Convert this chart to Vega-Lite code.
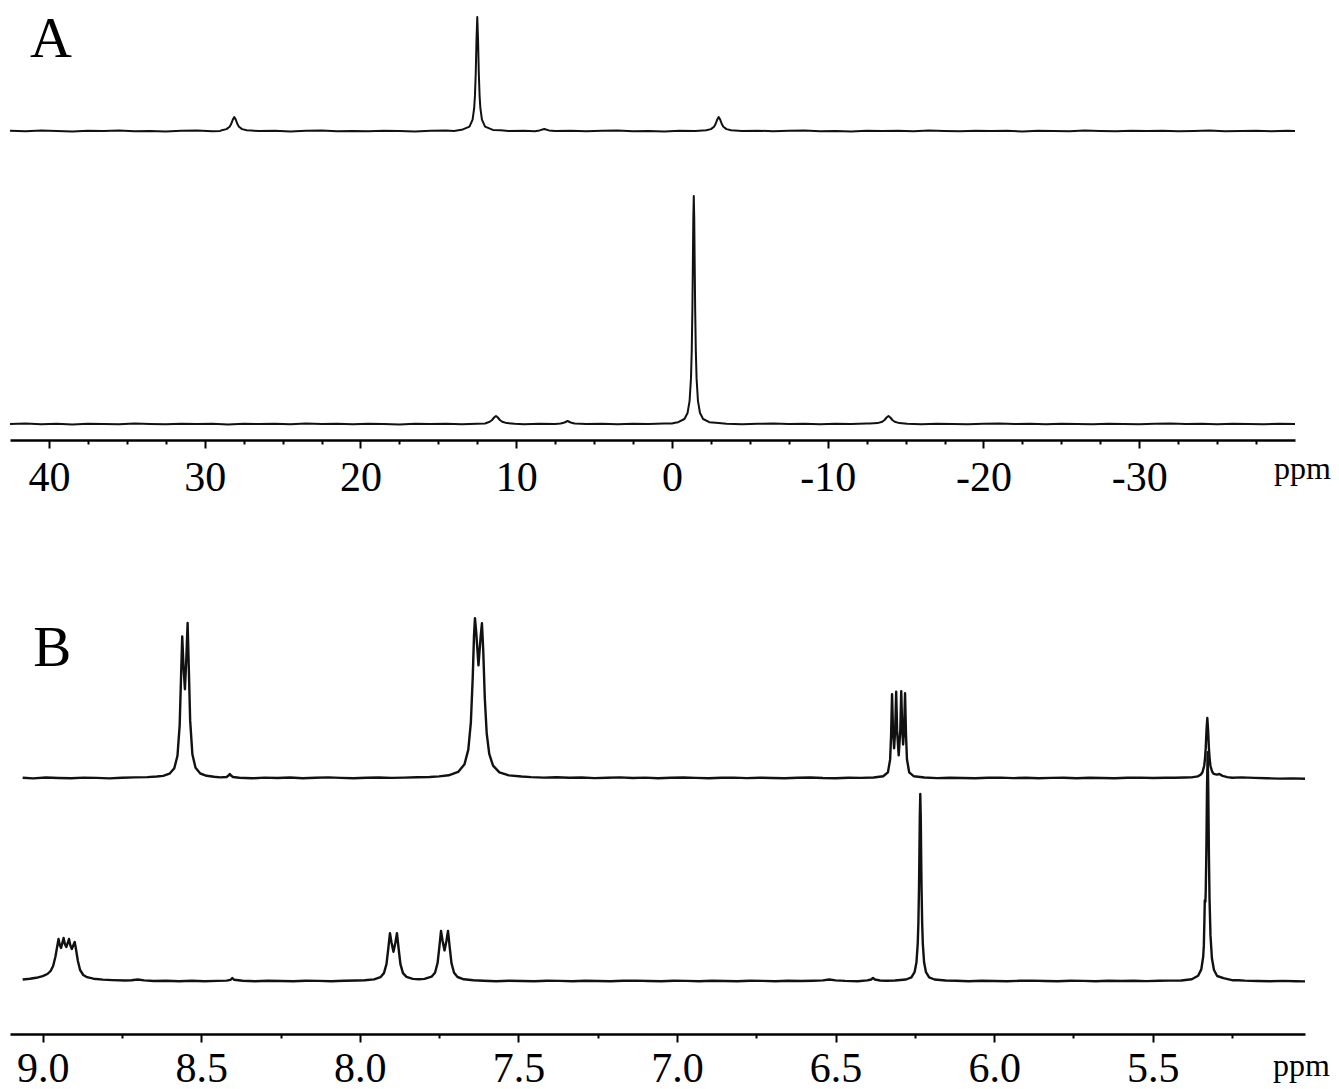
{
"$schema": "https://vega.github.io/schema/vega-lite/v6.json",
"background": "white",
"padding": {"left": 9, "top": 0, "right": 0, "bottom": 0},
"config": {"view": {"stroke": null}},
"datasets": {
"a_top": [
{"ppm":42.5,"intensity":0.2},{"ppm":41.5,"intensity":-0.3},{"ppm":40.5,"intensity":0.4},{"ppm":39.5,"intensity":0.0},{"ppm":38.5,"intensity":-0.4},{"ppm":37.5,"intensity":0.3},{"ppm":36.5,"intensity":-0.1},{"ppm":35.5,"intensity":0.5},{"ppm":34.5,"intensity":-0.2},{"ppm":33.5,"intensity":0.1},{"ppm":32.5,"intensity":-0.5},{"ppm":31.5,"intensity":0.2},{"ppm":30.5,"intensity":0.4},{"ppm":29.5,"intensity":-0.2},{"ppm":29.0,"intensity":0.1},{"ppm":28.9,"intensity":0.8},{"ppm":28.6,"intensity":1.9},{"ppm":28.4,"intensity":4.3},{"ppm":28.3,"intensity":7.0},{"ppm":28.2,"intensity":11.2},{"ppm":28.1,"intensity":14},{"ppm":28.0,"intensity":11.2},{"ppm":27.9,"intensity":7.0},{"ppm":27.8,"intensity":4.3},{"ppm":27.6,"intensity":1.9},{"ppm":27.3,"intensity":0.8},{"ppm":27.0,"intensity":0.4},{"ppm":26.5,"intensity":-0.1},{"ppm":25.5,"intensity":0.3},{"ppm":24.5,"intensity":-0.4},{"ppm":23.5,"intensity":0.2},{"ppm":22.5,"intensity":0.5},{"ppm":21.5,"intensity":-0.2},{"ppm":20.5,"intensity":0.1},{"ppm":19.5,"intensity":-0.3},{"ppm":18.5,"intensity":0.3},{"ppm":17.5,"intensity":0.0},{"ppm":16.5,"intensity":-0.4},{"ppm":15.5,"intensity":0.2},{"ppm":14.5,"intensity":0.4},{"ppm":14.0,"intensity":0.1},{"ppm":13.5,"intensity":1.2},{"ppm":13.0,"intensity":4.4},{"ppm":12.8,"intensity":11.4},{"ppm":12.7,"intensity":22.8},{"ppm":12.65,"intensity":35.1},{"ppm":12.6,"intensity":57},{"ppm":12.55,"intensity":91.2},{"ppm":12.5,"intensity":114},{"ppm":12.45,"intensity":91.2},{"ppm":12.4,"intensity":57},{"ppm":12.35,"intensity":35.1},{"ppm":12.3,"intensity":22.8},{"ppm":12.2,"intensity":11.4},{"ppm":12.0,"intensity":4.4},{"ppm":11.5,"intensity":1.1},{"ppm":11.0,"intensity":0.7},{"ppm":10.5,"intensity":-0.1},{"ppm":9.5,"intensity":0.3},{"ppm":8.8,"intensity":-0.2},{"ppm":8.5,"intensity":0.6},{"ppm":8.2,"intensity":2.0},{"ppm":7.9,"intensity":0.6},{"ppm":7.5,"intensity":-0.1},{"ppm":6.5,"intensity":0.3},{"ppm":5.5,"intensity":-0.3},{"ppm":4.5,"intensity":0.2},{"ppm":3.5,"intensity":0.4},{"ppm":2.5,"intensity":-0.2},{"ppm":1.5,"intensity":0.1},{"ppm":0.5,"intensity":-0.4},{"ppm":-0.5,"intensity":0.2},{"ppm":-1.5,"intensity":0.0},{"ppm":-2.2,"intensity":0.8},{"ppm":-2.5,"intensity":1.9},{"ppm":-2.7,"intensity":4.3},{"ppm":-2.8,"intensity":7.0},{"ppm":-2.9,"intensity":11.2},{"ppm":-3.0,"intensity":14},{"ppm":-3.1,"intensity":11.2},{"ppm":-3.2,"intensity":7.0},{"ppm":-3.3,"intensity":4.3},{"ppm":-3.5,"intensity":1.9},{"ppm":-3.8,"intensity":0.8},{"ppm":-4.5,"intensity":0.1},{"ppm":-5.5,"intensity":0.3},{"ppm":-6.5,"intensity":-0.3},{"ppm":-7.5,"intensity":0.2},{"ppm":-8.5,"intensity":0.4},{"ppm":-9.5,"intensity":-0.2},{"ppm":-10.5,"intensity":0.1},{"ppm":-11.5,"intensity":-0.4},{"ppm":-12.5,"intensity":0.3},{"ppm":-13.5,"intensity":0.0},{"ppm":-14.5,"intensity":0.2},{"ppm":-15.5,"intensity":-0.3},{"ppm":-16.5,"intensity":0.4},{"ppm":-17.5,"intensity":0.1},{"ppm":-18.5,"intensity":-0.2},{"ppm":-19.5,"intensity":0.3},{"ppm":-20.5,"intensity":-0.1},{"ppm":-21.5,"intensity":0.2},{"ppm":-22.5,"intensity":-0.4},{"ppm":-23.5,"intensity":0.3},{"ppm":-24.5,"intensity":0.0},{"ppm":-25.5,"intensity":-0.2},{"ppm":-26.5,"intensity":0.4},{"ppm":-27.5,"intensity":0.1},{"ppm":-28.5,"intensity":-0.3},{"ppm":-29.5,"intensity":0.2},{"ppm":-30.5,"intensity":-0.1},{"ppm":-31.5,"intensity":0.3},{"ppm":-32.5,"intensity":-0.2},{"ppm":-33.5,"intensity":0.1},{"ppm":-34.5,"intensity":0.4},{"ppm":-35.5,"intensity":-0.3},{"ppm":-36.5,"intensity":0.0},{"ppm":-37.5,"intensity":0.2},{"ppm":-38.5,"intensity":-0.2},{"ppm":-39.5,"intensity":0.3},{"ppm":-40.0,"intensity":0.1}
],
"a_bottom": [
{"ppm":42.5,"intensity":0.1},{"ppm":41.5,"intensity":0.4},{"ppm":40.5,"intensity":-0.2},{"ppm":39.5,"intensity":0.3},{"ppm":38.5,"intensity":-0.4},{"ppm":37.5,"intensity":0.2},{"ppm":36.5,"intensity":0.0},{"ppm":35.5,"intensity":-0.3},{"ppm":34.5,"intensity":0.4},{"ppm":33.5,"intensity":0.1},{"ppm":32.5,"intensity":-0.2},{"ppm":31.5,"intensity":0.3},{"ppm":30.5,"intensity":-0.1},{"ppm":29.5,"intensity":0.2},{"ppm":28.5,"intensity":-0.4},{"ppm":27.5,"intensity":0.3},{"ppm":26.5,"intensity":0.0},{"ppm":25.5,"intensity":0.2},{"ppm":24.5,"intensity":-0.3},{"ppm":23.5,"intensity":0.4},{"ppm":22.5,"intensity":-0.1},{"ppm":21.5,"intensity":0.2},{"ppm":20.5,"intensity":-0.2},{"ppm":19.5,"intensity":0.3},{"ppm":18.5,"intensity":0.1},{"ppm":17.5,"intensity":-0.4},{"ppm":16.5,"intensity":0.2},{"ppm":15.5,"intensity":0.0},{"ppm":14.5,"intensity":0.3},{"ppm":13.5,"intensity":-0.2},{"ppm":12.5,"intensity":0.2},{"ppm":12.0,"intensity":0.5},{"ppm":11.7,"intensity":2.25},{"ppm":11.55,"intensity":4},{"ppm":11.42,"intensity":6.5},{"ppm":11.3,"intensity":8},{"ppm":11.18,"intensity":6.5},{"ppm":11.05,"intensity":4},{"ppm":10.9,"intensity":2.25},{"ppm":10.6,"intensity":0.9},{"ppm":10.1,"intensity":0.3},{"ppm":9.5,"intensity":-0.2},{"ppm":8.5,"intensity":0.3},{"ppm":7.5,"intensity":0.0},{"ppm":7.15,"intensity":0.5},{"ppm":6.9,"intensity":1.5},{"ppm":6.7,"intensity":3},{"ppm":6.5,"intensity":1.5},{"ppm":6.25,"intensity":0.5},{"ppm":5.5,"intensity":-0.1},{"ppm":4.5,"intensity":0.3},{"ppm":3.5,"intensity":-0.3},{"ppm":2.5,"intensity":0.2},{"ppm":1.5,"intensity":0.0},{"ppm":0.5,"intensity":0.4},{"ppm":0.0,"intensity":0.6},{"ppm":-0.2,"intensity":1.3},{"ppm":-0.4,"intensity":1.8},{"ppm":-0.8,"intensity":5.0},{"ppm":-1.0,"intensity":11.0},{"ppm":-1.13,"intensity":22.8},{"ppm":-1.22,"intensity":45.6},{"ppm":-1.27,"intensity":73.9},{"ppm":-1.31,"intensity":114},{"ppm":-1.34,"intensity":158},{"ppm":-1.37,"intensity":205},{"ppm":-1.4,"intensity":228},{"ppm":-1.43,"intensity":205},{"ppm":-1.46,"intensity":158},{"ppm":-1.49,"intensity":114},{"ppm":-1.53,"intensity":73.9},{"ppm":-1.58,"intensity":45.6},{"ppm":-1.67,"intensity":22.8},{"ppm":-1.8,"intensity":11.0},{"ppm":-2.0,"intensity":5.0},{"ppm":-2.4,"intensity":1.8},{"ppm":-3.0,"intensity":0.9},{"ppm":-3.5,"intensity":0.2},{"ppm":-4.5,"intensity":-0.3},{"ppm":-5.5,"intensity":0.2},{"ppm":-6.5,"intensity":0.4},{"ppm":-7.5,"intensity":-0.1},{"ppm":-8.5,"intensity":0.2},{"ppm":-9.5,"intensity":-0.3},{"ppm":-10.5,"intensity":0.3},{"ppm":-11.5,"intensity":0.0},{"ppm":-12.5,"intensity":0.4},{"ppm":-12.7,"intensity":0.5},{"ppm":-13.2,"intensity":0.9},{"ppm":-13.5,"intensity":2.25},{"ppm":-13.65,"intensity":4},{"ppm":-13.78,"intensity":6.5},{"ppm":-13.9,"intensity":8},{"ppm":-14.02,"intensity":6.5},{"ppm":-14.15,"intensity":4},{"ppm":-14.3,"intensity":2.25},{"ppm":-14.6,"intensity":0.9},{"ppm":-15.1,"intensity":0.3},{"ppm":-16.0,"intensity":-0.2},{"ppm":-17.0,"intensity":0.3},{"ppm":-18.0,"intensity":0.0},{"ppm":-19.0,"intensity":-0.3},{"ppm":-20.0,"intensity":0.2},{"ppm":-21.0,"intensity":0.4},{"ppm":-22.0,"intensity":-0.1},{"ppm":-23.0,"intensity":0.2},{"ppm":-24.0,"intensity":-0.3},{"ppm":-25.0,"intensity":0.3},{"ppm":-26.0,"intensity":0.1},{"ppm":-27.0,"intensity":-0.2},{"ppm":-28.0,"intensity":0.3},{"ppm":-29.0,"intensity":0.0},{"ppm":-30.0,"intensity":-0.3},{"ppm":-31.0,"intensity":0.2},{"ppm":-32.0,"intensity":0.4},{"ppm":-33.0,"intensity":-0.1},{"ppm":-34.0,"intensity":0.2},{"ppm":-35.0,"intensity":-0.2},{"ppm":-36.0,"intensity":0.3},{"ppm":-37.0,"intensity":0.0},{"ppm":-38.0,"intensity":-0.3},{"ppm":-39.0,"intensity":0.2},{"ppm":-40.0,"intensity":0.1}
],
"b_top": [
{"ppm":9.063,"intensity":0.3},{"ppm":9.03,"intensity":-0.4},{"ppm":8.99,"intensity":0.5},{"ppm":8.95,"intensity":0.0},{"ppm":8.91,"intensity":-0.3},{"ppm":8.87,"intensity":0.4},{"ppm":8.83,"intensity":0.1},{"ppm":8.79,"intensity":-0.4},{"ppm":8.75,"intensity":0.3},{"ppm":8.71,"intensity":0.6},{"ppm":8.67,"intensity":0.9},{"ppm":8.64,"intensity":1.5},{"ppm":8.62,"intensity":2.1},{"ppm":8.6,"intensity":4.3},{"ppm":8.585,"intensity":9.7},{"ppm":8.575,"intensity":22.2},{"ppm":8.568,"intensity":53},{"ppm":8.564,"intensity":97.9},{"ppm":8.56,"intensity":141.6},{"ppm":8.556,"intensity":112},{"ppm":8.5515,"intensity":88.8},{"ppm":8.547,"intensity":119.7},{"ppm":8.543,"intensity":155},{"ppm":8.539,"intensity":107},{"ppm":8.535,"intensity":57.6},{"ppm":8.528,"intensity":23.7},{"ppm":8.518,"intensity":10.2},{"ppm":8.503,"intensity":4.5},{"ppm":8.483,"intensity":2.2},{"ppm":8.46,"intensity":1.2},{"ppm":8.44,"intensity":0.6},{"ppm":8.42,"intensity":1.0},{"ppm":8.413,"intensity":2.8},{"ppm":8.41,"intensity":4},{"ppm":8.407,"intensity":2.8},{"ppm":8.4,"intensity":1.0},{"ppm":8.38,"intensity":0.2},{"ppm":8.34,"intensity":-0.3},{"ppm":8.3,"intensity":0.4},{"ppm":8.26,"intensity":0.0},{"ppm":8.22,"intensity":0.5},{"ppm":8.18,"intensity":-0.2},{"ppm":8.14,"intensity":0.3},{"ppm":8.1,"intensity":0.6},{"ppm":8.06,"intensity":0.1},{"ppm":8.02,"intensity":-0.3},{"ppm":7.98,"intensity":0.2},{"ppm":7.94,"intensity":0.5},{"ppm":7.9,"intensity":0.1},{"ppm":7.86,"intensity":0.4},{"ppm":7.82,"intensity":0.8},{"ppm":7.78,"intensity":1.0},{"ppm":7.75,"intensity":1.6},{"ppm":7.72,"intensity":2.7},{"ppm":7.69,"intensity":6.1},{"ppm":7.67,"intensity":13.7},{"ppm":7.658,"intensity":28.4},{"ppm":7.65,"intensity":55.4},{"ppm":7.644,"intensity":100.9},{"ppm":7.64,"intensity":142.6},{"ppm":7.637,"intensity":159.9},{"ppm":7.633,"intensity":145.4},{"ppm":7.626,"intensity":112.7},{"ppm":7.619,"intensity":141.7},{"ppm":7.615,"intensity":154.8},{"ppm":7.611,"intensity":128.3},{"ppm":7.606,"intensity":79.8},{"ppm":7.6,"intensity":44.7},{"ppm":7.592,"intensity":24.1},{"ppm":7.58,"intensity":12.3},{"ppm":7.56,"intensity":5.65},{"ppm":7.53,"intensity":2.6},{"ppm":7.49,"intensity":1.5},{"ppm":7.46,"intensity":0.9},{"ppm":7.42,"intensity":0.4},{"ppm":7.38,"intensity":0.7},{"ppm":7.34,"intensity":0.2},{"ppm":7.3,"intensity":0.5},{"ppm":7.26,"intensity":-0.1},{"ppm":7.22,"intensity":0.3},{"ppm":7.18,"intensity":0.6},{"ppm":7.14,"intensity":0.0},{"ppm":7.1,"intensity":0.4},{"ppm":7.06,"intensity":-0.2},{"ppm":7.02,"intensity":0.3},{"ppm":6.98,"intensity":0.5},{"ppm":6.94,"intensity":0.1},{"ppm":6.9,"intensity":-0.3},{"ppm":6.86,"intensity":0.2},{"ppm":6.82,"intensity":0.4},{"ppm":6.78,"intensity":-0.1},{"ppm":6.74,"intensity":0.3},{"ppm":6.7,"intensity":0.0},{"ppm":6.66,"intensity":-0.3},{"ppm":6.62,"intensity":0.2},{"ppm":6.58,"intensity":0.5},{"ppm":6.54,"intensity":0.0},{"ppm":6.5,"intensity":-0.2},{"ppm":6.46,"intensity":0.3},{"ppm":6.42,"intensity":0.1},{"ppm":6.38,"intensity":0.5},{"ppm":6.35,"intensity":1.7},{"ppm":6.335,"intensity":5.6},{"ppm":6.328,"intensity":18.6},{"ppm":6.325,"intensity":43.1},{"ppm":6.322,"intensity":83.9},{"ppm":6.319,"intensity":47.4},{"ppm":6.3155,"intensity":29.7},{"ppm":6.312,"intensity":48.6},{"ppm":6.309,"intensity":86.2},{"ppm":6.306,"intensity":47.1},{"ppm":6.301,"intensity":22.7},{"ppm":6.296,"intensity":47.3},{"ppm":6.293,"intensity":86.9},{"ppm":6.29,"intensity":49.8},{"ppm":6.287,"intensity":33.5},{"ppm":6.284,"intensity":48.9},{"ppm":6.281,"intensity":84.7},{"ppm":6.278,"intensity":43.5},{"ppm":6.275,"intensity":18.8},{"ppm":6.268,"intensity":5.7},{"ppm":6.253,"intensity":1.7},{"ppm":6.22,"intensity":0.5},{"ppm":6.18,"intensity":-0.1},{"ppm":6.14,"intensity":0.3},{"ppm":6.1,"intensity":0.0},{"ppm":6.06,"intensity":-0.3},{"ppm":6.02,"intensity":0.2},{"ppm":5.98,"intensity":0.4},{"ppm":5.94,"intensity":-0.1},{"ppm":5.9,"intensity":0.2},{"ppm":5.86,"intensity":-0.3},{"ppm":5.82,"intensity":0.1},{"ppm":5.78,"intensity":0.3},{"ppm":5.74,"intensity":-0.2},{"ppm":5.7,"intensity":0.2},{"ppm":5.66,"intensity":0.0},{"ppm":5.62,"intensity":-0.3},{"ppm":5.58,"intensity":0.2},{"ppm":5.54,"intensity":0.4},{"ppm":5.5,"intensity":0.0},{"ppm":5.46,"intensity":0.3},{"ppm":5.43,"intensity":0.2},{"ppm":5.4,"intensity":0.5},{"ppm":5.378,"intensity":0.6},{"ppm":5.358,"intensity":1.6},{"ppm":5.348,"intensity":3.5},{"ppm":5.343,"intensity":6},{"ppm":5.338,"intensity":12},{"ppm":5.3355,"intensity":18.5},{"ppm":5.333,"intensity":30},{"ppm":5.3305,"intensity":48},{"ppm":5.328,"intensity":60},{"ppm":5.3255,"intensity":48},{"ppm":5.323,"intensity":30},{"ppm":5.3205,"intensity":18.5},{"ppm":5.318,"intensity":12},{"ppm":5.313,"intensity":6.5},{"ppm":5.308,"intensity":4.2},{"ppm":5.298,"intensity":3.4},{"ppm":5.29,"intensity":4.0},{"ppm":5.28,"intensity":2.1},{"ppm":5.265,"intensity":0.9},{"ppm":5.25,"intensity":0.3},{"ppm":5.22,"intensity":0.6},{"ppm":5.18,"intensity":0.1},{"ppm":5.14,"intensity":-0.3},{"ppm":5.1,"intensity":-0.6},{"ppm":5.06,"intensity":-0.4},{"ppm":5.02,"intensity":-0.7}
],
"b_bottom": [
{"ppm":9.063,"intensity":1.5},{"ppm":9.04,"intensity":2.2},{"ppm":9.02,"intensity":3.2},{"ppm":9.0,"intensity":4.8},{"ppm":8.985,"intensity":7.0},{"ppm":8.975,"intensity":10},{"ppm":8.967,"intensity":15},{"ppm":8.96,"intensity":24},{"ppm":8.955,"intensity":33},{"ppm":8.95,"intensity":42},{"ppm":8.946,"intensity":36},{"ppm":8.942,"intensity":33},{"ppm":8.938,"intensity":38},{"ppm":8.934,"intensity":43},{"ppm":8.93,"intensity":37},{"ppm":8.9255,"intensity":34},{"ppm":8.921,"intensity":38},{"ppm":8.917,"intensity":42},{"ppm":8.913,"intensity":36},{"ppm":8.908,"intensity":32},{"ppm":8.903,"intensity":36},{"ppm":8.899,"intensity":39},{"ppm":8.895,"intensity":32},{"ppm":8.889,"intensity":20},{"ppm":8.882,"intensity":11},{"ppm":8.872,"intensity":6},{"ppm":8.86,"intensity":3.8},{"ppm":8.84,"intensity":2.3},{"ppm":8.81,"intensity":1.4},{"ppm":8.78,"intensity":0.9},{"ppm":8.74,"intensity":0.5},{"ppm":8.72,"intensity":0.8},{"ppm":8.7,"intensity":1.5},{"ppm":8.68,"intensity":0.6},{"ppm":8.65,"intensity":0.0},{"ppm":8.61,"intensity":0.3},{"ppm":8.57,"intensity":-0.2},{"ppm":8.53,"intensity":0.2},{"ppm":8.49,"intensity":-0.3},{"ppm":8.45,"intensity":0.1},{"ppm":8.42,"intensity":0.4},{"ppm":8.408,"intensity":1.2},{"ppm":8.402,"intensity":3.0},{"ppm":8.396,"intensity":1.2},{"ppm":8.37,"intensity":0.2},{"ppm":8.33,"intensity":-0.3},{"ppm":8.29,"intensity":0.3},{"ppm":8.25,"intensity":0.0},{"ppm":8.21,"intensity":-0.2},{"ppm":8.17,"intensity":0.3},{"ppm":8.13,"intensity":0.1},{"ppm":8.09,"intensity":-0.3},{"ppm":8.05,"intensity":0.2},{"ppm":8.01,"intensity":0.5},{"ppm":7.985,"intensity":0.7},{"ppm":7.955,"intensity":1.6},{"ppm":7.935,"intensity":3.8},{"ppm":7.924,"intensity":7.9},{"ppm":7.916,"intensity":16.9},{"ppm":7.911,"intensity":30.5},{"ppm":7.905,"intensity":47.9},{"ppm":7.9,"intensity":38.3},{"ppm":7.894,"intensity":29.2},{"ppm":7.888,"intensity":38.3},{"ppm":7.883,"intensity":47.9},{"ppm":7.877,"intensity":30.5},{"ppm":7.872,"intensity":16.9},{"ppm":7.864,"intensity":7.9},{"ppm":7.853,"intensity":4.1},{"ppm":7.833,"intensity":2.1},{"ppm":7.814,"intensity":1.8},{"ppm":7.796,"intensity":2.1},{"ppm":7.774,"intensity":4.3},{"ppm":7.763,"intensity":8.3},{"ppm":7.755,"intensity":17.7},{"ppm":7.75,"intensity":31.9},{"ppm":7.744,"intensity":50.1},{"ppm":7.739,"intensity":40.1},{"ppm":7.733,"intensity":30.6},{"ppm":7.727,"intensity":40.1},{"ppm":7.722,"intensity":50.1},{"ppm":7.716,"intensity":31.9},{"ppm":7.711,"intensity":17.7},{"ppm":7.703,"intensity":8.3},{"ppm":7.692,"intensity":4.0},{"ppm":7.672,"intensity":1.7},{"ppm":7.642,"intensity":0.7},{"ppm":7.61,"intensity":0.3},{"ppm":7.57,"intensity":-0.2},{"ppm":7.53,"intensity":0.2},{"ppm":7.49,"intensity":0.0},{"ppm":7.45,"intensity":-0.3},{"ppm":7.41,"intensity":0.3},{"ppm":7.37,"intensity":0.1},{"ppm":7.33,"intensity":-0.2},{"ppm":7.29,"intensity":0.3},{"ppm":7.25,"intensity":0.0},{"ppm":7.21,"intensity":-0.3},{"ppm":7.17,"intensity":0.2},{"ppm":7.13,"intensity":0.4},{"ppm":7.09,"intensity":0.0},{"ppm":7.05,"intensity":-0.2},{"ppm":7.01,"intensity":0.3},{"ppm":6.97,"intensity":0.1},{"ppm":6.93,"intensity":-0.3},{"ppm":6.89,"intensity":0.2},{"ppm":6.85,"intensity":0.0},{"ppm":6.81,"intensity":-0.2},{"ppm":6.77,"intensity":0.3},{"ppm":6.73,"intensity":0.1},{"ppm":6.69,"intensity":-0.3},{"ppm":6.65,"intensity":0.2},{"ppm":6.61,"intensity":0.0},{"ppm":6.57,"intensity":0.3},{"ppm":6.54,"intensity":0.6},{"ppm":6.52,"intensity":1.5},{"ppm":6.5,"intensity":0.6},{"ppm":6.47,"intensity":0.1},{"ppm":6.43,"intensity":-0.2},{"ppm":6.4,"intensity":0.6},{"ppm":6.388,"intensity":1.5},{"ppm":6.382,"intensity":3.0},{"ppm":6.376,"intensity":1.5},{"ppm":6.36,"intensity":0.5},{"ppm":6.34,"intensity":0.3},{"ppm":6.313,"intensity":0.5},{"ppm":6.278,"intensity":1.5},{"ppm":6.261,"intensity":3.7},{"ppm":6.251,"intensity":8.8},{"ppm":6.245,"intensity":18.7},{"ppm":6.241,"intensity":37.4},{"ppm":6.239,"intensity":57.5},{"ppm":6.237,"intensity":93.5},{"ppm":6.236,"intensity":119.7},{"ppm":6.2345,"intensity":164},{"ppm":6.233,"intensity":187},{"ppm":6.2315,"intensity":164},{"ppm":6.23,"intensity":119.7},{"ppm":6.229,"intensity":93.5},{"ppm":6.227,"intensity":57.5},{"ppm":6.225,"intensity":37.4},{"ppm":6.221,"intensity":18.7},{"ppm":6.215,"intensity":8.8},{"ppm":6.205,"intensity":3.7},{"ppm":6.188,"intensity":1.5},{"ppm":6.153,"intensity":0.5},{"ppm":6.12,"intensity":0.2},{"ppm":6.08,"intensity":-0.2},{"ppm":6.04,"intensity":0.3},{"ppm":6.0,"intensity":0.0},{"ppm":5.96,"intensity":-0.3},{"ppm":5.92,"intensity":0.2},{"ppm":5.88,"intensity":0.4},{"ppm":5.84,"intensity":0.0},{"ppm":5.8,"intensity":-0.2},{"ppm":5.76,"intensity":0.3},{"ppm":5.72,"intensity":0.1},{"ppm":5.68,"intensity":-0.3},{"ppm":5.64,"intensity":0.2},{"ppm":5.6,"intensity":0.0},{"ppm":5.56,"intensity":0.3},{"ppm":5.52,"intensity":-0.1},{"ppm":5.48,"intensity":0.2},{"ppm":5.45,"intensity":0.4},{"ppm":5.41,"intensity":0.5},{"ppm":5.377,"intensity":1.8},{"ppm":5.357,"intensity":5.2},{"ppm":5.347,"intensity":11.6},{"ppm":5.341,"intensity":24.2},{"ppm":5.339,"intensity":35.1},{"ppm":5.337,"intensity":62.6},{"ppm":5.336,"intensity":80.6},{"ppm":5.335,"intensity":79},{"ppm":5.334,"intensity":79.3},{"ppm":5.333,"intensity":89},{"ppm":5.331,"intensity":130.3},{"ppm":5.329,"intensity":191.8},{"ppm":5.327,"intensity":228.9},{"ppm":5.325,"intensity":190.9},{"ppm":5.323,"intensity":127.4},{"ppm":5.321,"intensity":82},{"ppm":5.318,"intensity":45.6},{"ppm":5.3135,"intensity":22.8},{"ppm":5.307,"intensity":11},{"ppm":5.297,"intensity":5.0},{"ppm":5.277,"intensity":2.8},{"ppm":5.247,"intensity":0.7},{"ppm":5.23,"intensity":0.8},{"ppm":5.21,"intensity":0.4},{"ppm":5.17,"intensity":0.0},{"ppm":5.13,"intensity":-0.3},{"ppm":5.09,"intensity":0.1},{"ppm":5.05,"intensity":-0.2},{"ppm":5.02,"intensity":-0.4}
]
},
"vconcat": [
{
"width": 1285,
"height": 440,
"encoding": {
"x": {"field": "ppm", "type": "quantitative",
"scale": {"domain": [-40, 42.5], "reverse": true, "nice": false, "zero": false},
"axis": {
"values": [40,37.5,35,32.5,30,27.5,25,22.5,20,17.5,15,12.5,10,7.5,5,2.5,0,-2.5,-5,-7.5,-10,-12.5,-15,-17.5,-20,-22.5,-25,-27.5,-30,-32.5,-35,-37.5],
"labelExpr": "datum.value % 10 === 0 ? '' + datum.value : ''",
"tickSize": {"condition": {"test": "datum.value % 10 === 0", "value": 8}, "value": 4},
"tickWidth": 2, "tickColor": "#000",
"domainColor": "#000", "domainWidth": 2.5,
"labelFont": "Liberation Serif", "labelFontSize": 42, "labelColor": "#000", "labelPadding": 9,
"labelOverlap": false, "labelFlush": false, "grid": false,
"title": "ppm", "titleFont": "Liberation Serif", "titleFontSize": 32, "titleFontWeight": "normal", "titleColor": "#000",
"titleX": 1292, "titleY": 38, "titleAlign": "center", "titleBaseline": "alphabetic"
}}
},
"layer": [
{"layer": [
{"data": {"name": "a_top"}, "mark": {"type": "line", "color": "#111", "strokeWidth": 2, "strokeJoin": "round"},
"encoding": {"y": {"field": "intensity", "type": "quantitative", "scale": {"domain": [-309, 131], "nice": false, "zero": false}, "axis": null}}},
{"data": {"values": [{"panel": "A", "ppm": 41.22, "intensity": 74}]},
"mark": {"type": "text", "font": "Liberation Serif", "fontSize": 58, "align": "left", "baseline": "alphabetic", "color": "#000"},
"encoding": {"y": {"field": "intensity", "type": "quantitative"}, "text": {"field": "panel"}}}
]},
{"data": {"name": "a_bottom"}, "mark": {"type": "line", "color": "#111", "strokeWidth": 2, "strokeJoin": "round"},
"encoding": {"y": {"field": "intensity", "type": "quantitative", "scale": {"domain": [-16, 424], "nice": false, "zero": false}, "axis": null}}}
],
"resolve": {"scale": {"y": "independent"}}
},
{
"width": 1295,
"height": 433,
"encoding": {
"x": {"field": "ppm", "type": "quantitative",
"scale": {"domain": [5.02, 9.103], "reverse": true, "nice": false, "zero": false},
"axis": {
"values": [9,8.75,8.5,8.25,8,7.75,7.5,7.25,7,6.75,6.5,6.25,6,5.75,5.5,5.25],
"labelExpr": "abs(datum.value * 2 - round(datum.value * 2)) < 0.001 ? format(datum.value, '.1f') : ''",
"tickSize": {"condition": {"test": "abs(datum.value * 2 - round(datum.value * 2)) < 0.001", "value": 8}, "value": 4},
"tickWidth": 2, "tickColor": "#000",
"domainColor": "#000", "domainWidth": 2.5,
"labelFont": "Liberation Serif", "labelFontSize": 42, "labelColor": "#000", "labelPadding": 6,
"labelOverlap": false, "labelFlush": false, "grid": false,
"title": "ppm", "titleFont": "Liberation Serif", "titleFontSize": 32, "titleFontWeight": "normal", "titleColor": "#000",
"titleX": 1291, "titleY": 41, "titleAlign": "center", "titleBaseline": "alphabetic"
}}
},
"layer": [
{"layer": [
{"data": {"name": "b_top"}, "mark": {"type": "line", "color": "#111", "strokeWidth": 2.4, "strokeJoin": "round"},
"encoding": {"y": {"field": "intensity", "type": "quantitative", "scale": {"domain": [-256, 177], "nice": false, "zero": false}, "axis": null}}},
{"data": {"values": [{"panel": "B", "ppm": 9.03, "intensity": 112}]},
"mark": {"type": "text", "font": "Liberation Serif", "fontSize": 57, "align": "left", "baseline": "alphabetic", "color": "#000"},
"encoding": {"y": {"field": "intensity", "type": "quantitative"}, "text": {"field": "panel"}}}
]},
{"data": {"name": "b_bottom"}, "mark": {"type": "line", "color": "#111", "strokeWidth": 2.4, "strokeJoin": "round"},
"encoding": {"y": {"field": "intensity", "type": "quantitative", "scale": {"domain": [-53, 380], "nice": false, "zero": false}, "axis": null}}}
],
"resolve": {"scale": {"y": "independent"}}
}
],
"spacing": 103
}
